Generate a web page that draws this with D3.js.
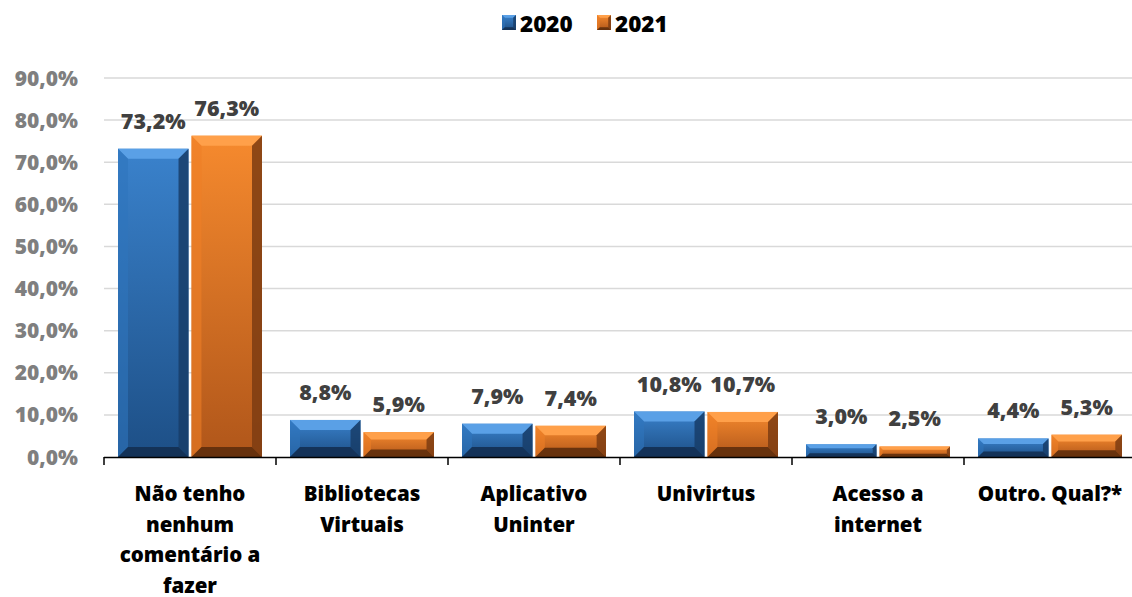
<!DOCTYPE html>
<html><head><meta charset="utf-8">
<script src="https://cdn.jsdelivr.net/npm/d3@7"></script>
<style>body{margin:0;background:#fff}svg{display:block}text{font-family:"Open Sans",Lato,sans-serif;font-weight:800}</style>
</head><body><svg id="c" width="1132" height="597"></svg>
<script>
const categories = [["Não tenho","nenhum","comentário a","fazer"],["Bibliotecas","Virtuais"],["Aplicativo","Uninter"],["Univirtus"],["Acesso a","internet"],["Outro. Qual?*"]];
const series = ["2020","2021"];
const values2020 = [73.2, 8.8, 7.9, 10.8, 3.0, 4.4];
const values2021 = [76.3, 5.9, 7.4, 10.7, 2.5, 5.3];
const yTicks = [0,10,20,30,40,50,60,70,80,90];

const svg = d3.select("#c");
const x = d3.scaleBand().domain(d3.range(categories.length)).range([104,1136]);
const xs = d3.scaleBand().domain(series).range([14, x.bandwidth()-14]).paddingInner(0.04);
const y = d3.scaleLinear().domain([0,90]).range([457,78]);
const fmt = v => v.toFixed(1).replace(".", ",") + "%";

const pal = {
  "2020": {main:"#2a6db4", light:"#5aa0e6", top:"#3a82cc", bot:"#1d4f86", left:"#2f74bd", right:"#173d68", bottom:"#132f52"},
  "2021": {main:"#e6761f", light:"#ffa04a", top:"#f68a2e", bot:"#b0561a", left:"#ee7f27", right:"#7c3c12", bottom:"#5e2e0c"}
};
const defs = svg.append("defs");
series.forEach(s=>{
  const g = defs.append("linearGradient").attr("id","g"+s).attr("x1",0).attr("y1",0).attr("x2",0).attr("y2",1);
  g.append("stop").attr("offset","0%").attr("stop-color",pal[s].top);
  g.append("stop").attr("offset","100%").attr("stop-color",pal[s].bot);
});

svg.append("g").selectAll("line").data(yTicks.slice(1)).join("line")
  .attr("x1",104).attr("x2",1136).attr("y1",d=>y(d)).attr("y2",d=>y(d))
  .attr("stroke","#d9d9d9").attr("stroke-width",1.5);
svg.append("g").selectAll("text").data(yTicks).join("text")
  .attr("x",78).attr("y",d=>y(d)).attr("dy","0.36em").attr("text-anchor","end")
  .attr("font-size",21).attr("fill","#7f7f7f").text(d=>fmt(d));

function bevelBar(g, x0, y0, w, h, s){
  const c = pal[s];
  const b = Math.min(10, h*0.3, w*0.2);
  g.append("rect").attr("x",x0).attr("y",y0).attr("width",w).attr("height",h).attr("fill","url(#g"+s+")");
  const x1=x0+w, y1=y0+h;
  g.append("polygon").attr("points",[[x0,y0],[x1,y0],[x1-b,y0+b],[x0+b,y0+b]].join(" ")).attr("fill",c.light);
  g.append("polygon").attr("points",[[x0,y0],[x0+b,y0+b],[x0+b,y1-b],[x0,y1]].join(" ")).attr("fill",c.left).attr("opacity",0.6);
  g.append("polygon").attr("points",[[x1,y0],[x1,y1],[x1-b,y1-b],[x1-b,y0+b]].join(" ")).attr("fill",c.right).attr("opacity",0.85);
  g.append("polygon").attr("points",[[x0,y1],[x0+b,y1-b],[x1-b,y1-b],[x1,y1]].join(" ")).attr("fill",c.bottom).attr("opacity",0.9);
}

const bars = svg.append("g");
const data = categories.map((c,i)=>({i, vals:{"2020":values2020[i],"2021":values2021[i]}}));
data.forEach(d=>{
  series.forEach(s=>{
    const v = d.vals[s];
    const bx = x(d.i)+xs(s), bw = xs.bandwidth();
    bevelBar(bars, bx, y(v), bw, y(0)-y(v), s);
    bars.append("text").attr("x",bx+bw/2).attr("y",y(v)-20).attr("text-anchor","middle")
      .attr("font-size",21.5).attr("fill","#404040").text(fmt(v));
  });
});

svg.append("line").attr("x1",104).attr("x2",1136).attr("y1",457.5).attr("y2",457.5).attr("stroke","#000").attr("stroke-width",1.5);
svg.append("g").selectAll("line").data(d3.range(categories.length+1)).join("line")
  .attr("x1",d=>104+d*x.bandwidth()).attr("x2",d=>104+d*x.bandwidth()).attr("y1",457).attr("y2",465)
  .attr("stroke","#000").attr("stroke-width",1.5);

svg.append("g").selectAll("text").data(categories).join("text")
  .attr("x",(d,i)=>x(i)+x.bandwidth()/2).attr("y",501).attr("text-anchor","middle")
  .attr("font-size",20.5).attr("fill","#000")
  .each(function(d){ const t=d3.select(this); d.forEach((line,k)=>t.append("tspan").attr("x",t.attr("x")).attr("dy",k?30.5:0).text(line)); });

const leg = svg.append("g");
const legX = {"2020":502,"2021":597};
series.forEach(s=>{
  bevelBar(leg, legX[s], 15, 14, 15, s);
  leg.append("text").attr("x",legX[s]+18).attr("y",24).attr("dy","0.36em").attr("font-size",22.5).attr("fill","#000").text(s);
});
</script></body></html>
